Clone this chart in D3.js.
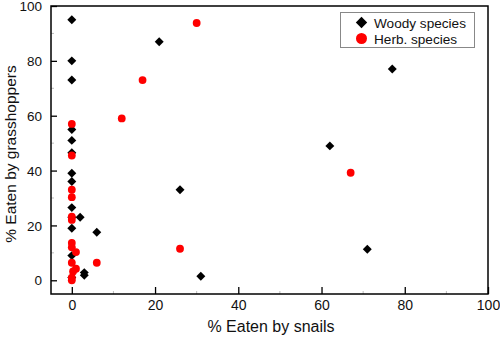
<!DOCTYPE html>
<html>
<head>
<meta charset="utf-8">
<script src="https://cdn.jsdelivr.net/npm/d3@7"></script>
<style>
  body { margin: 0; background: #fff; }
  svg { font-family: "Liberation Sans", Arial, sans-serif; }
</style>
</head>
<body>
<div id="chart"></div>
<script>
// woody species: % eaten by snails / by grasshoppers
const woodySnails = [0, 0, 0, 21, 77, 0, 0, 0, 62, 0, 0, 26, 0, 0, 2, 0, 6, 71, 0, 3, 3, 0, 31];
const woodyHoppers = [95, 80, 73, 87, 77, 55, 51, 46.5, 49, 39, 36, 33, 26.5, 23, 23, 19, 17.5, 11.3, 9, 2.8, 1.8, 1, 1.5];

// herbaceous species
const herbSnails = [30, 17, 12, 0, 0, 67, 0, 0, 0, 0, 0, 0, 26, 1, 0, 6, 1, 0.3, 0, 0];
const herbHoppers = [93.8, 73, 59, 57, 45.5, 39.2, 33, 30.3, 23.2, 22, 13.6, 12, 11.5, 10.3, 6.4, 6.4, 4.2, 3.2, 1, 0];

const xTicks = [0, 20, 40, 60, 80, 100];
const yTicks = [0, 20, 40, 60, 80, 100];
const legendLabels = ["Woody species", "Herb. species"];

const W = 500, H = 337;
const margin = { top: 6, right: 12, bottom: 43, left: 51 };

const svg = d3.select("#chart").append("svg")
  .attr("width", W)
  .attr("height", H);

const x = d3.scaleLinear().domain([-5, 100]).range([margin.left, W - margin.right]);
const y = d3.scaleLinear().domain([-5, 100]).range([H - margin.bottom, margin.top]);

// minor ticks (faint)
const minor = [10, 30, 50, 70, 90];
svg.append("g").selectAll("line.mx").data(minor).enter().append("line")
  .attr("x1", d => x(d)).attr("x2", d => x(d))
  .attr("y1", y(-5)).attr("y2", y(-5) - 3)
  .attr("stroke", "#bbb").attr("stroke-width", 1);
svg.append("g").selectAll("line.my").data(minor).enter().append("line")
  .attr("y1", d => y(d)).attr("y2", d => y(d))
  .attr("x1", x(-5)).attr("x2", x(-5) + 3)
  .attr("stroke", "#bbb").attr("stroke-width", 1);

// axes with inward ticks
const xAxis = svg.append("g")
  .attr("transform", `translate(0,${y(-5)})`)
  .call(d3.axisBottom(x).tickValues(xTicks).tickSizeInner(-7).tickSizeOuter(0).tickPadding(10));
const yAxis = svg.append("g")
  .attr("transform", `translate(${x(-5)},0)`)
  .call(d3.axisLeft(y).tickValues(yTicks).tickSizeInner(-6).tickSizeOuter(0).tickPadding(11));

[xAxis, yAxis].forEach(g => {
  g.select(".domain").remove();
  g.selectAll(".tick line").attr("stroke", "#000").attr("stroke-width", 1.3);
  g.selectAll(".tick text").attr("fill", "#111");
});
xAxis.selectAll(".tick text").attr("font-size", "14px").attr("dy", "0.4em");
yAxis.selectAll(".tick text").attr("font-size", "13.5px").attr("dx", "0.15em").attr("dy", "0.34em");

// frame
svg.append("rect")
  .attr("x", x(-5)).attr("y", y(100))
  .attr("width", x(100) - x(-5))
  .attr("height", y(-5) - y(100))
  .attr("fill", "none")
  .attr("stroke", "#000")
  .attr("stroke-width", 1.5);

// titles
svg.append("text")
  .attr("x", 271).attr("y", 332)
  .attr("text-anchor", "middle")
  .attr("font-size", "16px")
  .attr("fill", "#111")
  .text("% Eaten by snails");

svg.append("text")
  .attr("transform", `translate(16,${(y(100) + y(-5)) / 2 + 4}) rotate(-90)`)
  .attr("text-anchor", "middle")
  .attr("font-size", "15.5px")
  .attr("fill", "#111")
  .text("% Eaten by grasshoppers");

const diamond = d3.symbol().type(d3.symbolSquare).size(40);

// woody
svg.append("g").selectAll("path")
  .data(woodySnails.map((v, i) => [v, woodyHoppers[i]]))
  .enter().append("path")
  .attr("d", diamond)
  .attr("transform", d => `translate(${x(d[0])},${y(d[1])}) rotate(45)`)
  .attr("fill", "#000");

// herb
svg.append("g").selectAll("circle")
  .data(herbSnails.map((v, i) => [v, herbHoppers[i]]))
  .enter().append("circle")
  .attr("cx", d => x(d[0]))
  .attr("cy", d => y(d[1]))
  .attr("r", 3.9)
  .attr("fill", "#ff0000");

// legend
const lg = svg.append("g");
lg.append("rect")
  .attr("x", 340.5).attr("y", 12.5)
  .attr("width", 134).attr("height", 35)
  .attr("fill", "#fff")
  .attr("stroke", "#888")
  .attr("stroke-width", 1);
lg.append("path")
  .attr("d", d3.symbol().type(d3.symbolSquare).size(64))
  .attr("transform", "translate(361.5,22.5) rotate(45)")
  .attr("fill", "#000");
lg.append("circle")
  .attr("cx", 361.5).attr("cy", 38.5).attr("r", 5.5)
  .attr("fill", "#ff0000");
lg.selectAll("text").data(legendLabels).enter().append("text")
  .attr("x", 374)
  .attr("y", (d, i) => 27.5 + i * 16)
  .attr("font-size", "13.6px")
  .attr("fill", "#111")
  .text(d => d);
</script>
</body>
</html>
